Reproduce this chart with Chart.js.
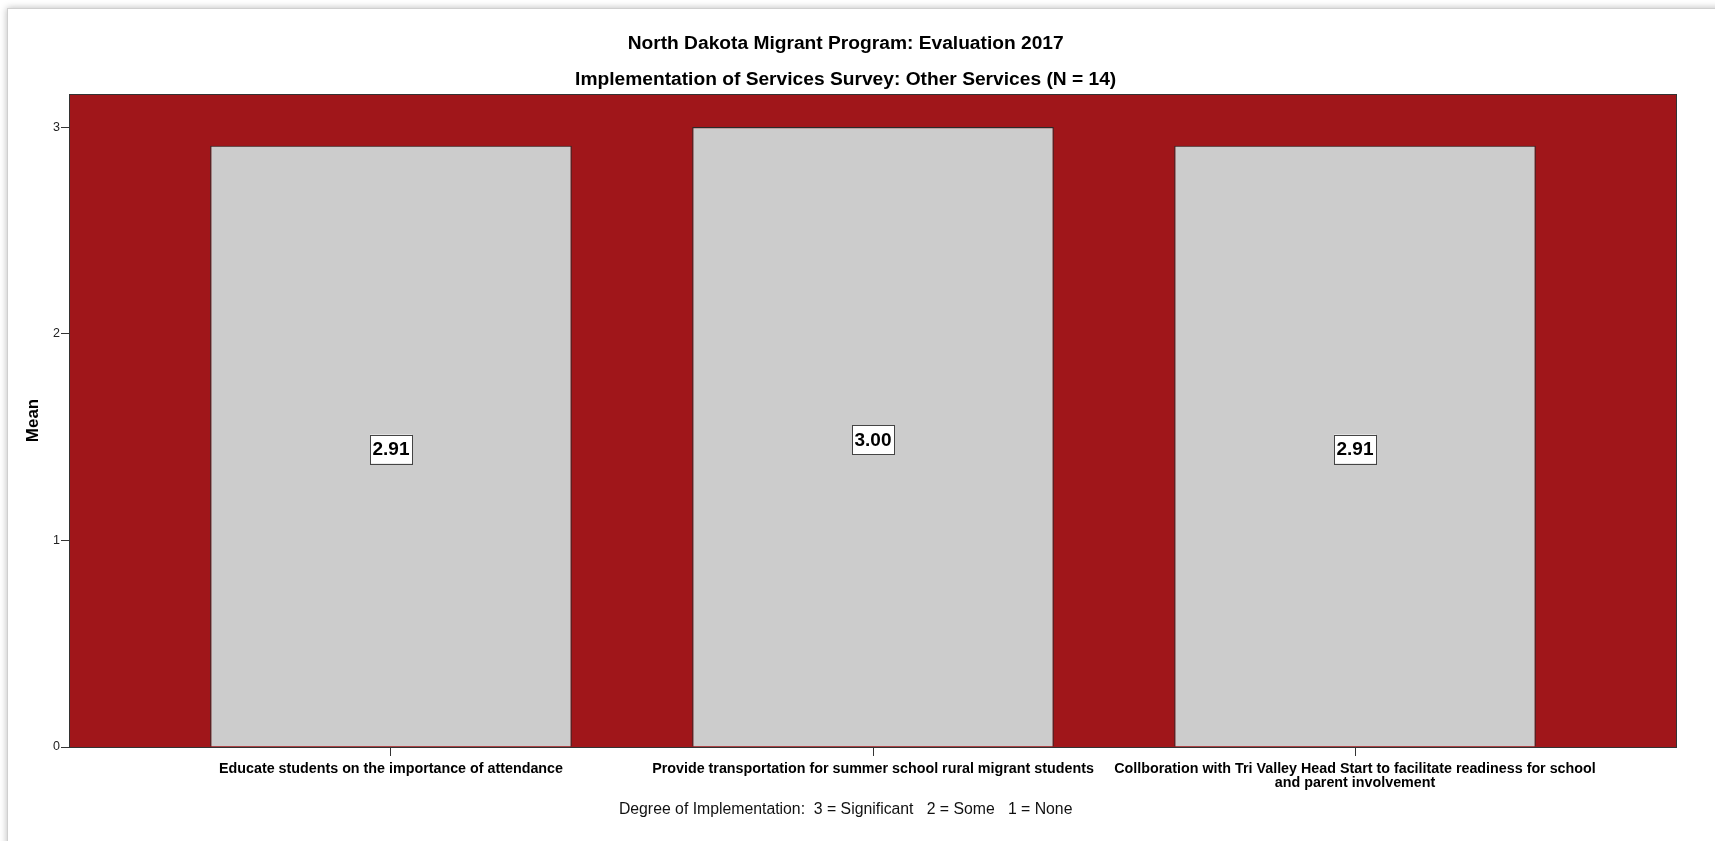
<!DOCTYPE html>
<html>
<head>
<meta charset="utf-8">
<title>North Dakota Migrant Program: Evaluation 2017</title>
<script src="https://cdn.jsdelivr.net/npm/chart.js@4.4.1/dist/chart.umd.min.js"></script>
<style>
    html, body { margin: 0; padding: 0; background: #fff; overflow: hidden; }
    #frame {
        position: absolute; left: 7px; top: 8px; width: 1730px; height: 860px;
        border: 1px solid #cfcfcf; background: #fff;
        box-shadow: 0 0 7px rgba(0, 0, 0, 0.28);
    }
    #chart { position: absolute; left: 0; top: 0; }
</style>
</head>
<body>
<div id="frame"></div>
<canvas id="chart" width="1715" height="841"></canvas>
<script>
// Survey items, mean ratings and axis ticks
const categories = [
    'Educate students on the importance of attendance',
    'Provide transportation for summer school rural migrant students',
    ['Collboration with Tri Valley Head Start to facilitate readiness for school', 'and parent involvement']
];
const means = [2.91, 3.00, 2.91];
const yTicks = [0, 1, 2, 3];

const titleText = 'North Dakota Migrant Program: Evaluation 2017';
const subtitleText = 'Implementation of Services Survey: Other Services (N = 14)';
const footnoteText = 'Degree of Implementation:  3 = Significant   2 = Some   1 = None';

const FONT = '"Liberation Sans", Arial, sans-serif';

// red plot background with a dark frame
const plotBackground = {
    id: 'plotBackground',
    beforeDraw(chart) {
        const { ctx, chartArea: a } = chart;
        ctx.save();
        ctx.fillStyle = '#a0161a';
        ctx.fillRect(a.left, a.top, a.right - a.left, a.bottom - a.top);
        ctx.strokeStyle = '#333';
        ctx.lineWidth = 1;
        ctx.strokeRect(a.left + 0.5, a.top + 0.5, a.right - a.left - 1, a.bottom - a.top);
        ctx.restore();
    }
};

// boxed value labels in the middle of each bar
const valueLabels = {
    id: 'valueLabels',
    afterDatasetsDraw(chart) {
        const { ctx } = chart;
        const meta = chart.getDatasetMeta(0);
        ctx.save();
        ctx.font = 'bold 19px ' + FONT;
        ctx.textAlign = 'center';
        ctx.textBaseline = 'middle';
        meta.data.forEach((bar, i) => {
            const text = means[i].toFixed(2);
            const cx = bar.x;
            const cy = (bar.y + bar.base) / 2 + 3;
            const w = ctx.measureText(text).width + 5;
            const h = 29;
            ctx.fillStyle = '#fff';
            ctx.fillRect(cx - w / 2, cy - h / 2, w, h);
            ctx.strokeStyle = '#444';
            ctx.lineWidth = 1;
            ctx.strokeRect(Math.round(cx - w / 2) + 0.5, Math.round(cy - h / 2) + 0.5, Math.round(w), h);
            ctx.fillStyle = '#000';
            ctx.fillText(text, cx, cy + 1);
        });
        ctx.restore();
    }
};

// titles above the plot and footnote under the axis labels
const headings = {
    id: 'headings',
    afterDraw(chart) {
        const { ctx, chartArea: a } = chart;
        const cx = a.left + (a.right - a.left) * 0.483;
        ctx.save();
        ctx.fillStyle = '#000';
        ctx.textAlign = 'center';
        ctx.textBaseline = 'middle';
        ctx.font = 'bold 19.2px ' + FONT;
        ctx.fillText(titleText, cx, a.top - 50);
        ctx.fillText(subtitleText, cx, a.top - 14);
        ctx.font = '15.8px ' + FONT;
        ctx.fillStyle = '#111';
        ctx.fillText(footnoteText, cx, a.bottom + 63);
        ctx.restore();
    }
};

new Chart(document.getElementById('chart'), {
    type: 'bar',
    data: {
        datasets: [{
            data: means.map((v, i) => ({ x: i, y: v })),
            backgroundColor: '#cccccc',
            borderColor: '#2a2a2a',
            borderWidth: 1.2,
            borderSkipped: 'bottom',
            categoryPercentage: 1,
            barPercentage: 0.75
        }]
    },
    options: {
        responsive: false,
        animation: false,
        devicePixelRatio: 1,
        layout: { padding: { top: 94, right: 38, bottom: 0, left: 0 } },
        plugins: {
            legend: { display: false },
            title: { display: false },
            tooltip: { enabled: false }
        },
        scales: {
            x: {
                type: 'linear',
                min: -0.668,
                max: categories.length - 1 + 0.668,
                offset: false,
                afterBuildTicks: scale => {
                    scale.ticks = categories.map((c, i) => ({ value: i }));
                },
                afterFit: scale => { scale.height = 94; },
                border: { display: false },
                grid: {
                    drawOnChartArea: false,
                    offset: false,
                    tickLength: 9,
                    tickColor: '#333',
                    tickWidth: 1
                },
                ticks: {
                    autoSkip: false,
                    maxRotation: 0,
                    padding: 6,
                    color: '#000',
                    font: ctx => ({
                        family: ctx.index === 2 ? '"Liberation Sans Narrow", "Arial Narrow", ' + FONT : FONT,
                        size: 14.3,
                        weight: 'bold',
                        lineHeight: 1.0
                    }),
                    callback: value => categories[value]
                }
            },
            y: {
                min: 0,
                max: 3.16,
                afterBuildTicks: scale => {
                    scale.ticks = yTicks.map(v => ({ value: v }));
                },
                afterFit: scale => { scale.width = 69; },
                border: { display: false },
                grid: {
                    drawOnChartArea: false,
                    tickLength: 8,
                    tickColor: '#333',
                    tickWidth: 1
                },
                ticks: {
                    padding: 1,
                    color: '#222',
                    font: { family: FONT, size: 12.5 }
                },
                title: {
                    display: true,
                    text: 'Mean',
                    color: '#000',
                    font: { family: FONT, size: 17, weight: 'bold' },
                    padding: { top: 23, bottom: 0 }
                }
            }
        }
    },
    plugins: [plotBackground, valueLabels, headings]
});
</script>
</body>
</html>
